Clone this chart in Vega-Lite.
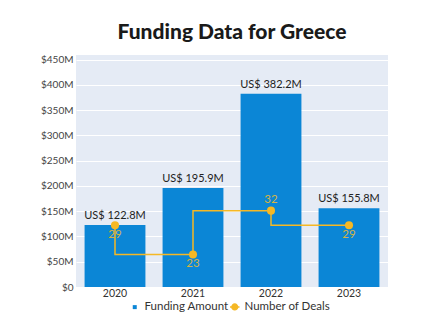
{
  "$schema": "https://vega.github.io/schema/vega-lite/v6.json",
  "width": 312,
  "height": 232,
  "autosize": {"type": "none"},
  "padding": {"left": 76, "top": 55, "right": 49, "bottom": 46},
  "background": "white",
  "title": {"text": "Funding Data for Greece", "fontSize": 21, "font": "Lato", "fontWeight": 900, "color": "#1a1a1a", "anchor": "middle", "offset": 12},
  "config": {
    "view": {"fill": "#e5ebf5", "stroke": null},
    "axis": {"labelFont": "Lato", "labelFontSize": 10, "labelColor": "#444", "ticks": false, "domain": false}
  },
  "data": {"values": [
    {"year": "2020", "funding": 122.8, "deals": 29},
    {"year": "2021", "funding": 195.9, "deals": 23},
    {"year": "2022", "funding": 382.2, "deals": 32},
    {"year": "2023", "funding": 155.8, "deals": 29}
  ]},
  "transform": [{"calculate": "'US$ ' + format(datum.funding, '.1f') + 'M'", "as": "label"}],
  "encoding": {
    "x": {"field": "year", "type": "ordinal", "scale": {"paddingInner": 0.22, "paddingOuter": 0.11},
      "axis": {"title": null, "labelAngle": 0, "grid": false, "labelPadding": 1, "labelColor": "#333", "labelFontSize": 10.5}}
  },
  "layer": [
    {
      "encoding": {
        "y": {"field": "funding", "type": "quantitative", "scale": {"domain": [0, 459], "nice": false},
          "axis": {"title": null, "values": [0, 50, 100, 150, 200, 250, 300, 350, 400, 450], "labelExpr": "datum.value === 0 ? '$0' : '$' + datum.value + 'M'", "grid": true, "gridColor": "#ffffff", "gridWidth": 1, "labelPadding": 3}}
      },
      "layer": [
        {"mark": {"type": "bar"}, "encoding": {"color": {"datum": "Funding Amount", "type": "nominal",
          "scale": {"domain": ["Funding Amount", "Number of Deals"], "range": ["#0b86d6", "#f5b825"]},
          "legend": {"orient": "none", "legendX": 53, "legendY": 246, "direction": "horizontal", "title": null,
            "labelFont": "Lato", "labelFontSize": 11.5, "labelColor": "#333", "columnPadding": -18, "labelOffset": 4,
            "encode": {"symbols": {"update": {
              "shape": {"signal": "datum.value === 'Funding Amount' ? 'square' : 'M-1,0H1M0.6,0A0.6,0.6,0,1,1,-0.6,0A0.6,0.6,0,1,1,0.6,0Z'"},
              "size": {"signal": "datum.value === 'Funding Amount' ? 16 : 90"},
              "fill": {"signal": "datum.value === 'Funding Amount' ? '#0b86d6' : '#f5b825'"},
              "stroke": {"value": "#f5b825"},
              "strokeWidth": {"signal": "datum.value === 'Funding Amount' ? 0 : 1.5"},
              "opacity": {"value": 1}
            }}}}}}},
        {"mark": {"type": "text", "baseline": "bottom", "dy": -4, "font": "Lato", "fontSize": 11, "color": "#222"},
          "encoding": {"text": {"field": "label"}}}
      ]
    },
    {
      "encoding": {
        "y": {"field": "deals", "type": "quantitative", "scale": {"domain": [16.3, 64], "nice": false, "zero": false}, "axis": null}
      },
      "layer": [
        {"mark": {"type": "line", "interpolate": "step-before", "strokeWidth": 1.5}, "encoding": {"color": {"datum": "Number of Deals", "type": "nominal"}}},
        {"mark": {"type": "point", "filled": true, "size": 65, "opacity": 1}, "encoding": {"color": {"datum": "Number of Deals", "type": "nominal"}}},
        {"transform": [{"filter": "datum.year !== '2022'"}],
          "mark": {"type": "text", "baseline": "middle", "dy": 10, "font": "Lato", "fontSize": 11.5, "color": "#d2b445"},
          "encoding": {"text": {"field": "deals"}}},
        {"transform": [{"filter": "datum.year === '2022'"}],
          "mark": {"type": "text", "baseline": "middle", "dy": -11, "font": "Lato", "fontSize": 11.5, "color": "#d2b445"},
          "encoding": {"text": {"field": "deals"}}}
      ]
    }
  ],
  "resolve": {"scale": {"y": "independent"}}
}
